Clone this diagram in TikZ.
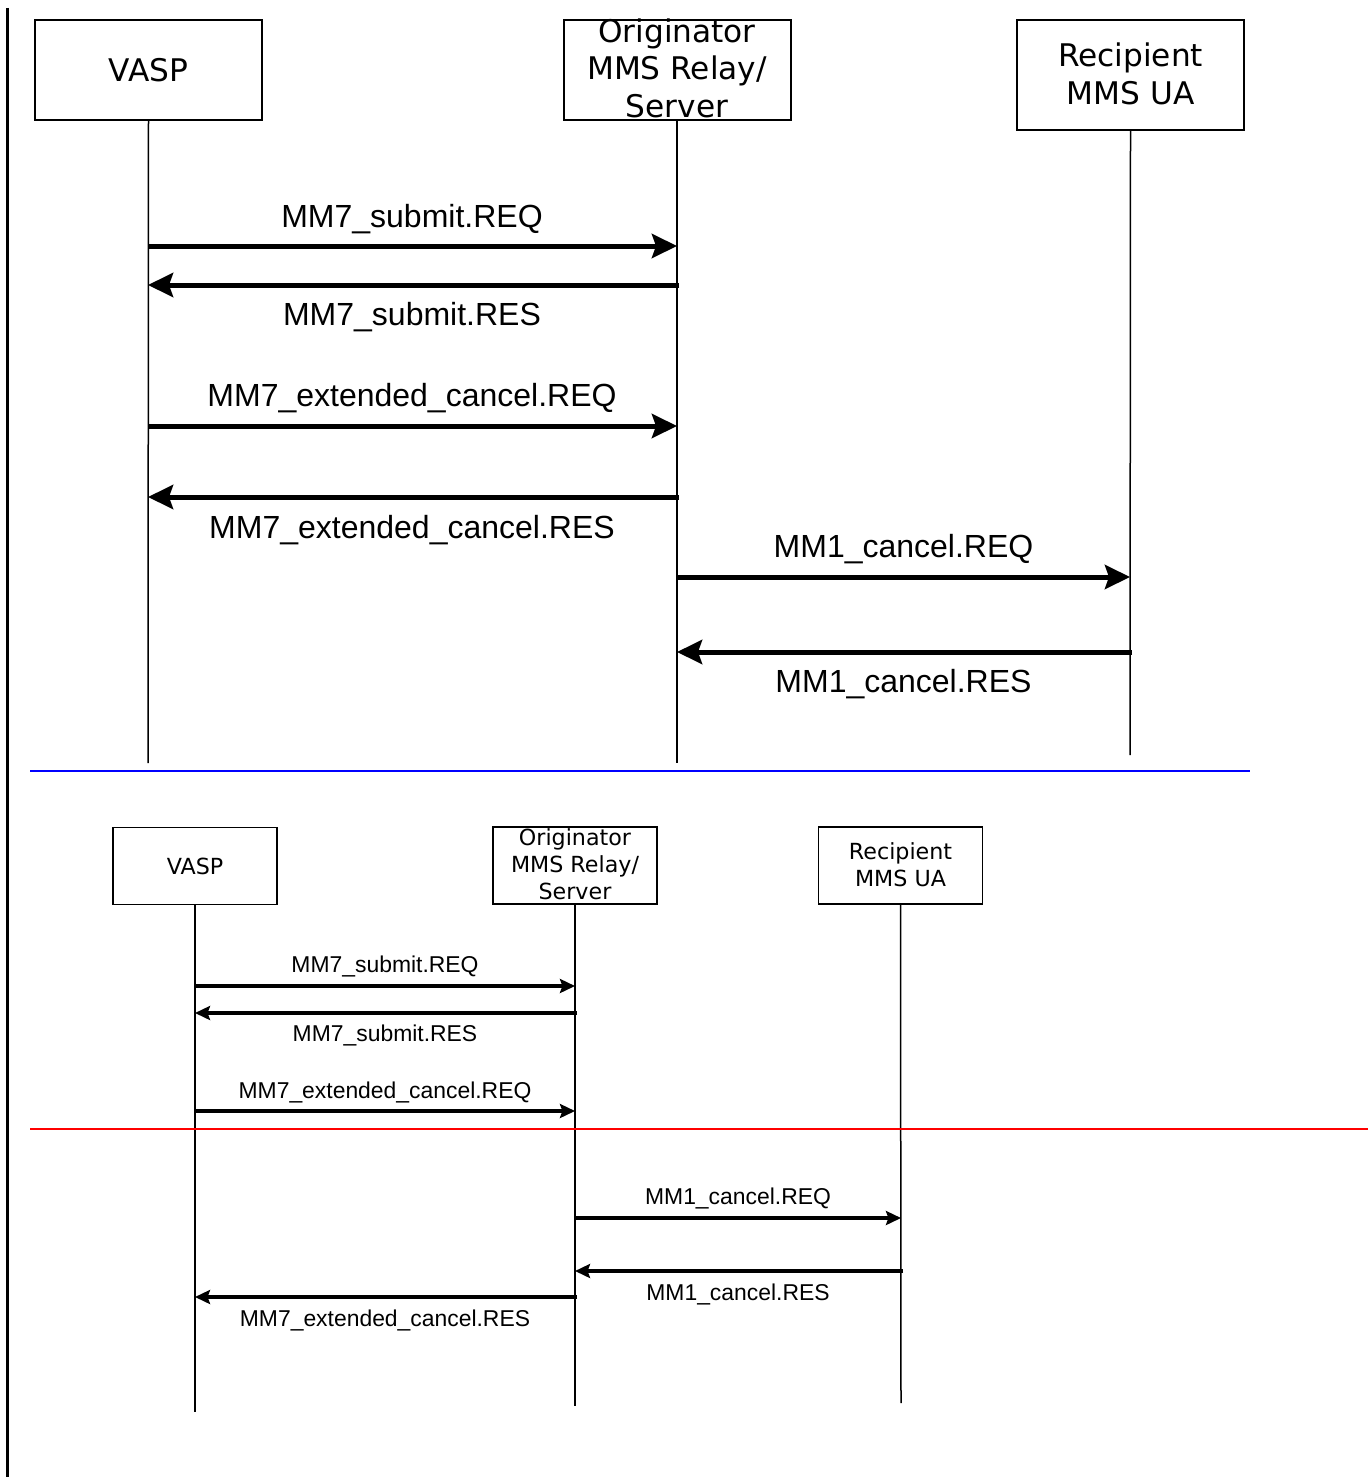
\documentclass[tikz,border=0pt]{standalone}
\usepackage{fontspec}
\setmainfont{Liberation Sans}
\newfontfamily\boxfont{DejaVu Sans}
\usetikzlibrary{arrows.meta}
\tikzset{
  bigbox/.style={draw, line width=1pt, inner sep=0pt, minimum width=113.5pt},
  bigtxt/.style={align=center, inner sep=0pt, font=\boxfont\fontsize{15.6}{18.8}\selectfont},
  smallbox/.style={draw, line width=0.8pt, inner sep=0pt, minimum width=82pt, minimum height=38.5pt},
  smalltxt/.style={align=center, inner sep=0pt, font=\boxfont\fontsize{11.1}{13.4}\selectfont},
  life/.style={line width=0.75pt},
  bigmsg/.style={line width=2.5pt, -{Stealth[length=12.5pt,width=12pt,inset=2pt]}},
  smallmsg/.style={line width=1.6pt, -{Stealth[length=7.5pt,width=7pt,inset=1.2pt]}},
  biglbl/.style={anchor=base, inner sep=0pt, font=\fontsize{16}{19}\selectfont},
  smalllbl/.style={anchor=base, inner sep=0pt, font=\fontsize{11.45}{14}\selectfont},
}
\begin{document}
\begin{tikzpicture}[x=0.5pt,y=-0.5pt]
\useasboundingbox (0,0) rectangle (1368,1477);
% left border line
\coordinate (lt) at (7,8);
\coordinate (lb) at (7,1477);
\draw[line width=1.5pt] (lt) -- (lb);

% ===== top diagram =====
\node[bigbox, minimum height=50pt] (vasp) at (148.5,70) {};
\node[bigtxt] (vaspt) at (vasp) {VASP};
\node[bigbox, minimum height=50pt] (orig) at (677,70) {};
\node[bigtxt] (origt) at (677,68) {Originator\\MMS Relay/\\Server};
\node[bigbox, minimum height=55pt] (reci) at (1130.5,75) {};
\node[bigtxt] (recit) at (1130.5,74) {Recipient\\MMS UA};

\coordinate (vend) at (148,763);
\coordinate (oend) at (677,763);
\coordinate (rend) at (1130,755);
\draw[life] (vasp.south) -- (vend);
\draw[life] (orig.south) -- (oend);
\draw[life] (reci.south) -- (rend);

\coordinate (ya) at (0,246);
\coordinate (yb) at (0,285);
\coordinate (yc) at (0,426);
\coordinate (yd) at (0,497);
\coordinate (ye) at (0,577);
\coordinate (yf) at (0,652);

\draw[bigmsg] (vend |- ya) -- (oend |- ya);
\draw[bigmsg] ([xshift=1pt]oend |- yb) -- (vend |- yb);
\draw[bigmsg] (vend |- yc) -- (oend |- yc);
\draw[bigmsg] ([xshift=1pt]oend |- yd) -- (vend |- yd);
\draw[bigmsg] (oend |- ye) -- (rend |- ye);
\draw[bigmsg] ([xshift=1pt]rend |- yf) -- (oend |- yf);

\node[biglbl] (la) at (412,227) {MM7\_submit.REQ};
\node[biglbl] (lb2) at (412,325) {MM7\_submit.RES};
\node[biglbl] (lc) at (412,406) {MM7\_extended\_cancel.REQ};
\node[biglbl] (ld) at (412,538) {MM7\_extended\_cancel.RES};
\node[biglbl] (le) at (903.5,557) {MM1\_cancel.REQ};
\node[biglbl] (lf) at (903.5,692) {MM1\_cancel.RES};

% blue separator
\coordinate (bl1) at (30,771);
\coordinate (bl2) at (1250,771);
\draw[line width=1pt, color={rgb,255:red,0;green,0;blue,255}] (bl1) -- (bl2);

% ===== bottom diagram =====
\node[smallbox] (svasp) at (195,866) {};
\node[smalltxt] (svaspt) at (svasp) {VASP};
\node[smallbox] (sorig) at (575,865.5) {};
\node[smalltxt] (sorigt) at (575,864) {Originator\\MMS Relay/\\Server};
\node[smallbox] (sreci) at (900.5,865.5) {};
\node[smalltxt] (srecit) at (900.5,865) {Recipient\\MMS UA};

\coordinate (svend) at (195,1412);
\coordinate (soend) at (575,1406);
\coordinate (srend) at (901,1403);
\draw[life] (svasp.south) -- (svend);
\draw[life] (sorig.south) -- (soend);
\draw[life] (sreci.south) -- (srend);

\coordinate (sya) at (0,986);
\coordinate (syb) at (0,1013);
\coordinate (syc) at (0,1111);
\coordinate (syd) at (0,1218);
\coordinate (sye) at (0,1271);
\coordinate (syf) at (0,1297);

\draw[smallmsg] (svend |- sya) -- (soend |- sya);
\draw[smallmsg] ([xshift=1pt]soend |- syb) -- (svend |- syb);
\draw[smallmsg] (svend |- syc) -- (soend |- syc);
\draw[smallmsg] (soend |- syd) -- (srend |- syd);
\draw[smallmsg] ([xshift=1pt]srend |- sye) -- (soend |- sye);
\draw[smallmsg] ([xshift=1pt]soend |- syf) -- (svend |- syf);

\node[smalllbl] (sla) at (385,972) {MM7\_submit.REQ};
\node[smalllbl] (slb) at (385,1041) {MM7\_submit.RES};
\node[smalllbl] (slc) at (385,1098) {MM7\_extended\_cancel.REQ};
\node[smalllbl] (sld) at (738,1204) {MM1\_cancel.REQ};
\node[smalllbl] (sle) at (738,1300) {MM1\_cancel.RES};
\node[smalllbl] (slf) at (385,1326) {MM7\_extended\_cancel.RES};

% red separator
\coordinate (rl1) at (30,1129);
\coordinate (rl2) at (1368,1129);
\draw[line width=1pt, color={rgb,255:red,255;green,0;blue,0}] (rl1) -- (rl2);
\end{tikzpicture}
\end{document}
